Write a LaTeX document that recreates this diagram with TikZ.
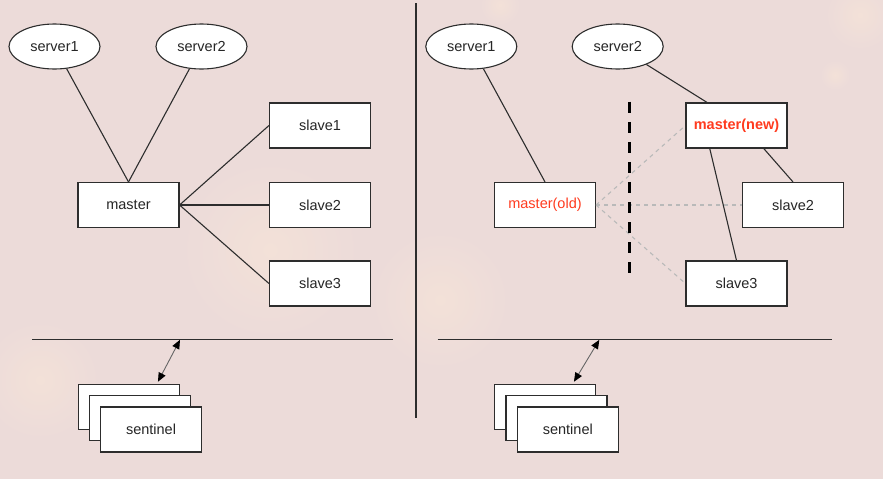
\documentclass[tikz,border=0pt]{standalone}
\usepackage{fontspec}
\setmainfont{Liberation Sans}
\usetikzlibrary{shapes.geometric,arrows.meta,calc}
\definecolor{bgbase}{RGB}{236,219,217}
\definecolor{glow}{RGB}{243,225,216}
\definecolor{edge}{RGB}{45,45,45}
\definecolor{redtxt}{RGB}{255,59,31}
\definecolor{dashgray}{RGB}{185,185,185}
\tikzset{
  box/.style={draw=edge, line width=1.1pt, fill=white, minimum width=101pt, minimum height=45pt, inner sep=0pt, font=\fontsize{14.5}{17}\selectfont, text=black!85},
  srv/.style={ellipse, draw=edge, line width=1.1pt, fill=white, minimum width=91pt, minimum height=45pt, inner sep=0pt, font=\fontsize{14.5}{17}\selectfont, text=black!85},
  link/.style={draw=edge, line width=1.1pt},
  lostlink/.style={draw=dashgray, line width=1.1pt, dash pattern=on 4pt off 4pt},
  cut/.style={draw=black, line width=3pt, dash pattern=on 11pt off 9.05pt},
  bus/.style={draw=edge, line width=1.1pt},
  sentlink/.style={draw=black!60, line width=0.9pt, {Triangle[length=9pt,width=7.5pt,color=black]}-{Triangle[length=9pt,width=7.5pt,color=black]}},
}
\begin{document}
\begin{tikzpicture}[x=1pt,y=-1pt]
% background
\fill[bgbase] (0,0) rectangle (883,479);
\useasboundingbox (0,0) rectangle (883,479);
\shade[inner color=glow, outer color=bgbase] (270,250) circle (90);
\shade[inner color=glow, outer color=bgbase] (440,300) circle (70);
\shade[inner color=glow, outer color=bgbase] (40,380) circle (60);
\shade[inner color=glow, outer color=bgbase] (860,15) circle (35);
\shade[inner color=glow, outer color=bgbase] (835,75) circle (15);
\shade[inner color=glow, outer color=bgbase] (500,5) circle (20);

% divider
\coordinate (divtop) at (416,3);
\coordinate (divbot) at (416,418);
\draw[link] (divtop) -- (divbot);

% ---------------- left panel ----------------
\node[srv] (ls1) at (54.5,46.5) {server1};
\node[srv] (ls2) at (201.5,46.5) {server2};
\node[box] (lm) at (128.5,205) {master};
\node[box] (lsl1) at (320,125.5) {slave1};
\node[box] (lsl2) at (320,205) {slave2};
\node[box] (lsl3) at (320,283.5) {slave3};
\draw[link] (ls1) -- (lm.north);
\draw[link] (ls2) -- (lm.north);
\draw[link] (lm.east) -- (lsl1.west);
\draw[link] (lm.east) -- (lsl2.west);
\draw[link] (lm.east) -- (lsl3.west);

\coordinate (lbusA) at (32,339.3);
\coordinate (lbusB) at (393,339.3);
\draw[bus] (lbusA) -- (lbusB);
\node[box] (lsen3) at (129,407.3) {};
\node[box] (lsen2) at (140,418.3) {};
\node[box] (lsen1) at (151,429.5) {sentinel};
\coordinate (larr) at (180,339.8);
\draw[sentlink] (larr) -- ($(lsen3.north west)+(80,-2.5)$);

% ---------------- right panel ----------------
\node[srv] (rs1) at (471.3,46.5) {server1};
\node[srv] (rs2) at (617.7,46.5) {server2};
\node[box, text=redtxt, font=\fontsize{14.5}{17}\selectfont\bfseries] (rmn) at (736.5,125.5) {master(new)};
\node[box, text=redtxt] (rmo) at (545,205) {master(old)};
\node[box] (rsl2) at (793,205) {slave2};
\node[box] (rsl3) at (736.5,283.5) {slave3};

\draw[lostlink] (rmo.east) -- (rmn.west);
\draw[lostlink] (rmo.east) -- (rsl2.west);
\draw[lostlink] (rmo.east) -- (rsl3.west);

\draw[link] (rs1) -- (rmo.north);
\draw[link] (rs2) -- ($(rmn.north west)+(21.6,0)$);
\draw[link] ($(rmn.south west)+(78.3,0)$) -- (rsl2.north);
\draw[link] ($(rmn.south west)+(24.3,0)$) -- (rsl3.north);

\coordinate (cutA) at (629,101.7);
\coordinate (cutB) at (629,273);
\draw[cut] (cutA) -- (cutB);

\coordinate (rbusA) at (437.7,339.3);
\coordinate (rbusB) at (832.3,339.3);
\draw[bus] (rbusA) -- (rbusB);
\node[box] (rsen3) at (545,407.3) {};
\node[box] (rsen2) at (556.5,418.3) {};
\node[box] (rsen1) at (567.8,429.5) {sentinel};
\coordinate (rarr) at (599.3,339.8);
\draw[sentlink] (rarr) -- ($(rsen3.north west)+(80,-2.5)$);
\end{tikzpicture}
\end{document}
